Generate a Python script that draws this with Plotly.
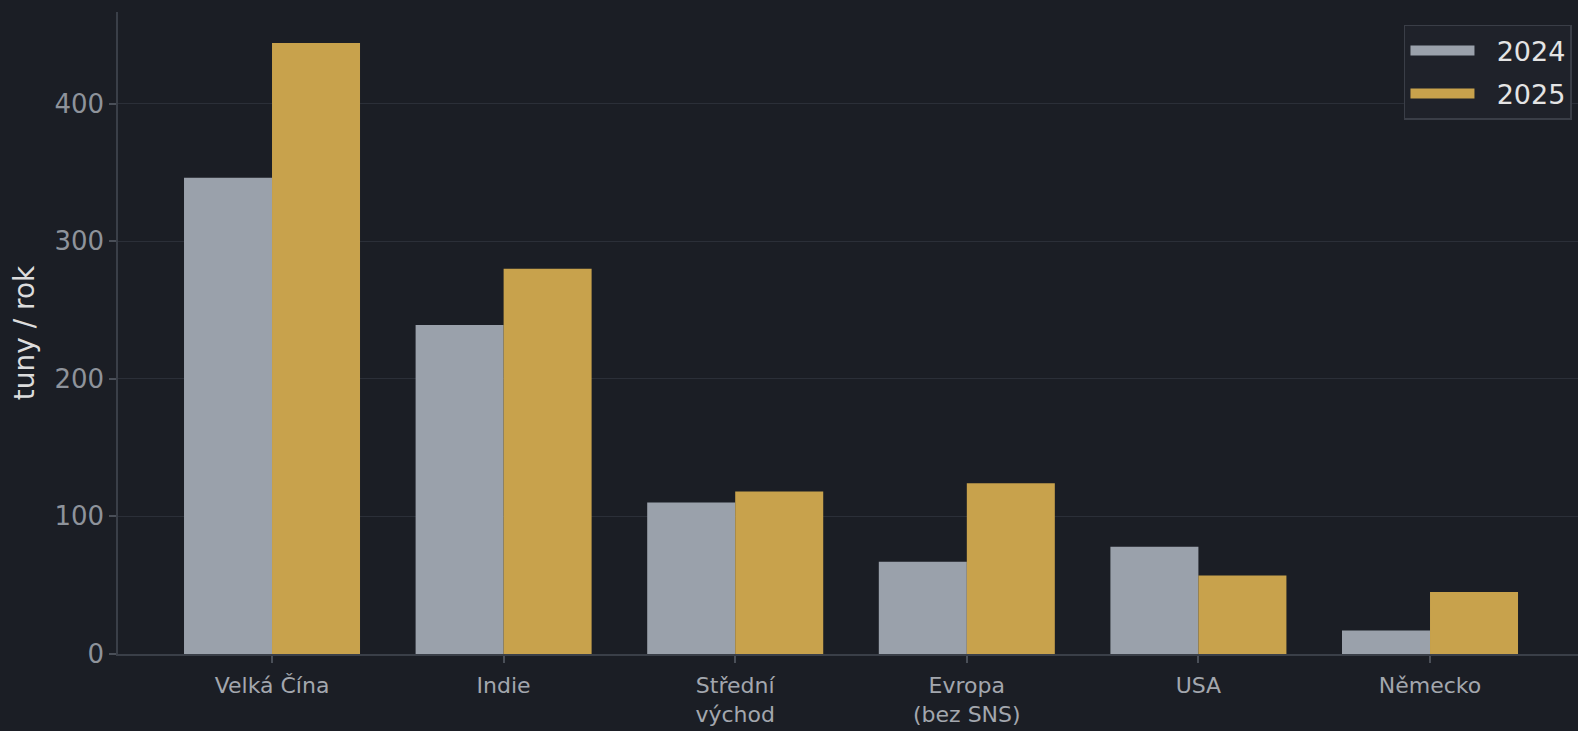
import plotly.graph_objects as go

categories = ["Velká Čína", "Indie", "Střední<br>východ", "Evropa<br>(bez SNS)", "USA", "Německo"]
values_2024 = [346, 239, 110, 67, 78, 17]
values_2025 = [444, 280, 118, 124, 57, 45]
series_names = ["2024", "2025"]
y_ticks = [0, 100, 200, 300, 400]

BG = "#1b1e25"
GRAY = "#9aa1ab"
GOLD = "#c8a24c"
FONT = "DejaVu Sans"

xs = list(range(len(categories)))
fig = go.Figure()
fig.add_trace(go.Bar(x=xs, y=values_2024, name=series_names[0], showlegend=False,
                     marker=dict(color=GRAY, line=dict(width=0)), width=0.38, offset=-0.38))
fig.add_trace(go.Bar(x=xs, y=values_2025, name=series_names[1], showlegend=False,
                     marker=dict(color=GOLD, line=dict(width=0)), width=0.38, offset=0))
# legend keys (wide rectangles like the original)
for nm, col in zip(series_names, [GRAY, GOLD]):
    fig.add_trace(go.Scatter(x=[None], y=[None], mode="lines", name="\u00a0\u00a0" + nm, legendgroup=nm,
                             line=dict(color=col, width=20), hoverinfo="skip"))

fig.update_layout(
    width=1578, height=731,
    paper_bgcolor=BG, plot_bgcolor=BG,
    margin=dict(l=118, r=0, t=12, b=77),
    font=dict(family=FONT, color="#8e939b"),
    barmode="overlay",
    showlegend=True,
    legend=dict(
        x=0.8808, y=0.98, xanchor="left", yanchor="top",
        bgcolor="#1f222a", bordercolor="#3a3e47", borderwidth=1.5,
        font=dict(size=27, color="#e4e4e4", family=FONT),
        itemwidth=64, tracegroupgap=5,
    ),
    xaxis=dict(
        range=[-0.665, 5.639],
        tickmode="array", tickvals=xs, ticktext=categories,
        tickfont=dict(size=22, color="#a3a7ae", family=FONT),
        ticks="outside", ticklen=7, tickcolor="#4a4f58", tickwidth=1.5,
        ticklabelstandoff=4,
        showgrid=False, zeroline=False,
        showline=True, linecolor="#3a3f48", linewidth=1.5,
    ),
    yaxis=dict(
        range=[0, 466.5],
        tickmode="array", tickvals=y_ticks,
        tickfont=dict(size=26, color="#8e939b", family=FONT),
        ticks="outside", ticklen=7, tickcolor="#4a4f58", tickwidth=1.5,
        showgrid=True, gridcolor="#2b2f38", gridwidth=1,
        zeroline=False,
        showline=True, linecolor="#3a3f48", linewidth=1.5,
        title=dict(text="tuny / rok", font=dict(size=28, color="#dcdcdc", family=FONT), standoff=12),
    ),
)

fig.write_html(
    "out.html",
    config={"displayModeBar": False},
    post_script=("document.documentElement.style.margin='0';document.body.style.margin='0';"
                 "document.documentElement.style.overflow='hidden';document.body.style.overflow='hidden';"
                 "document.body.style.background='#1b1e25';"),
)
